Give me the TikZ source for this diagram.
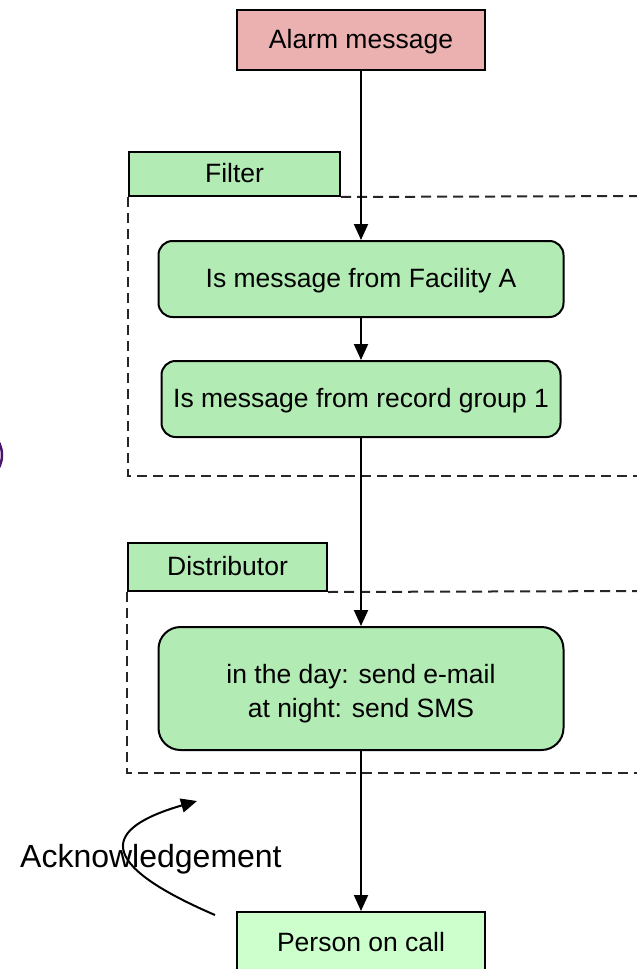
\documentclass[tikz,border=0pt]{standalone}
\usepackage{fontspec}
\setmainfont{Liberation Sans}
\usetikzlibrary{positioning,arrows.meta}
\definecolor{alarmred}{RGB}{235,177,177}
\definecolor{rulegreen}{RGB}{179,235,181}
\definecolor{palegreen}{RGB}{204,255,204}
\definecolor{ovalpurple}{RGB}{75,20,110}
\tikzset{
    box/.style = {draw, line width=2pt, inner sep=0pt, align=center, text height=19pt, text depth=2pt, font=\fontsize{26.5}{34}\selectfont},
    alarm/.style = {box, fill=alarmred, minimum width=248pt, minimum height=60pt},
    rulebox/.style = {box, fill=rulegreen, rounded corners=14pt, minimum width=405pt, minimum height=76pt},
    sendbox/.style = {box, fill=rulegreen, rounded corners=22pt, minimum width=405pt, minimum height=123pt, text height=60pt},
    person/.style = {box, fill=palegreen, minimum width=248pt, minimum height=62pt},
    tab/.style = {box, fill=rulegreen},
    frame/.style = {line width=2pt, dash pattern=on 10pt off 6pt, black!85},
    arr/.style = {line width=2pt, -{Triangle[width=14pt,length=16pt]}}
}

\begin{document}
\begin{tikzpicture}[x=1pt, y=-1pt]
\clip (0,0) rectangle (637,969);
% chain of boxes
\node[alarm] (alarm) at (361,40) {Alarm message};
\node[rulebox, below=169pt of alarm] (facility) {Is message from Facility A};
\node[rulebox, minimum width=399pt, below=42pt of facility] (group) {Is message from record group 1};
\node[sendbox, below=188pt of group] (send) {in the day: send e-mail\\at night: send SMS};
\node[person, below=160pt of send] (person) {Person on call};
% filter and distributor groups
\node[tab, minimum width=211pt, minimum height=44pt] (filtertab) at (234.5,174) {Filter};
\node[tab, minimum width=199pt, minimum height=48pt] (disttab) at (227.5,567) {Distributor};
\draw[frame] (filtertab.south east) -- (650,196);
\draw[frame] (filtertab.south west) |- (650,476);
\draw[frame] (disttab.south east) -- (650,591);
\draw[frame] (disttab.south west) |- (650,773);
% arrows
\draw[arr] (alarm.south) -- (facility.north);
\draw[arr] (facility.south) -- (group.north);
\draw[arr] (group.south) -- (send.north);
\draw[arr] (send.south) -- (person.north);
% acknowledgement
\node[anchor=west, inner sep=0pt, font=\fontsize{32}{38}\selectfont] (ack) at (20,859) {Acknowledgement};
\coordinate (ackfrom) at (215,915);
\coordinate (ackto) at (197,801);
\draw[arr] (ackfrom) .. controls (92,862) and (104,828) .. (ackto);
% edge of the oval on the left
\draw[ovalpurple, line width=2.5pt] (-26,455) circle (28);
\end{tikzpicture}
\end{document}
